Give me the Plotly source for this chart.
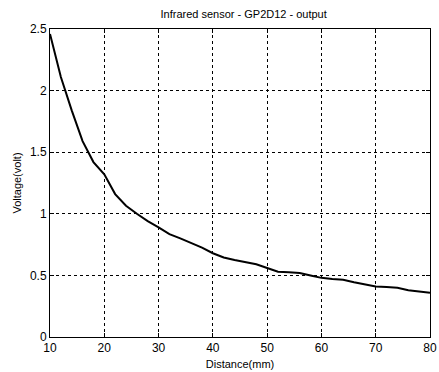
import plotly.graph_objects as go

distance_mm = [10, 12, 14, 16, 18, 20, 22, 24, 26, 28, 30, 32, 34, 36, 38, 40, 42, 44, 46, 48,
               50, 52, 54, 56, 58, 60, 62, 64, 66, 68, 70, 72, 74, 76, 78, 80]
voltage_volt = [2.46, 2.11, 1.84, 1.59, 1.42, 1.32, 1.16, 1.065, 1.0, 0.94, 0.89, 0.835, 0.8, 0.765,
                0.725, 0.68, 0.645, 0.625, 0.61, 0.59, 0.56, 0.53, 0.525, 0.52, 0.5, 0.48, 0.47,
                0.465, 0.445, 0.43, 0.41, 0.405, 0.4, 0.38, 0.37, 0.36]
x_ticks = [10, 20, 30, 40, 50, 60, 70, 80]
y_ticks = [0, 0.5, 1, 1.5, 2, 2.5]

fig = go.Figure()
fig.add_trace(go.Scatter(x=distance_mm, y=voltage_volt, mode="lines",
                         line=dict(color="black", width=2), showlegend=False))

font = dict(family="Liberation Sans, Arial, sans-serif", size=11, color="black")
axis_common = dict(showline=True, linecolor="black", linewidth=1, mirror="ticks",
                   ticks="inside", ticklen=4, tickcolor="black",
                   showgrid=True, gridcolor="black", gridwidth=1, griddash="3px,3px",
                   zeroline=False, ticklabeloverflow="allow",
                   tickfont=dict(family=font["family"], size=12, color="black"))

fig.update_layout(
    width=439, height=372,
    margin=dict(l=50, r=2, t=29, b=35),
    paper_bgcolor="white", plot_bgcolor="white",
    font=font,
    title=dict(text="Infrared sensor - GP2D12 - output", x=0.555, xanchor="center",
               y=0.962, yanchor="middle", font=dict(size=11, color="black")),
    xaxis=dict(range=[10, 80], tickvals=x_ticks, title=dict(text="Distance(mm)", standoff=5,
               font=dict(size=11)), **axis_common),
    yaxis=dict(range=[0, 2.5], tickvals=y_ticks, title=dict(text="Voltage(volt)", standoff=6,
               font=dict(size=11)), **axis_common),
)

fig.write_html("out.html")
